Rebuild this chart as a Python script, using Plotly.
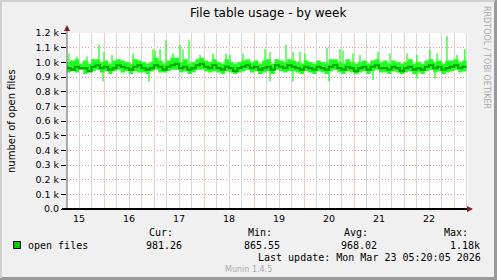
import plotly.graph_objects as go
import pandas as pd

# ---------------- data (values in thousands of open files) ----------------
bin_start = "2026-03-15 06:00"
bin_count = 97
avg_k = [0.96,0.95,0.97,0.96,0.96,0.94,0.97,0.98,0.96,0.97,0.95,0.96,
         0.98,0.97,0.96,0.95,0.97,0.98,0.96,0.95,0.96,0.98,0.97,0.95,
         0.97,0.98,0.99,0.96,0.97,0.95,0.96,0.98,0.99,0.97,0.96,0.98,
         0.96,0.95,0.97,0.96,0.94,0.96,0.97,0.98,0.96,0.97,0.95,0.96,
         0.97,0.95,0.98,0.97,0.96,0.98,0.97,0.96,0.95,0.97,0.96,0.95,
         0.97,0.96,0.95,0.97,0.98,0.96,0.95,0.97,0.96,0.94,0.96,0.97,
         0.95,0.97,0.98,0.96,0.96,0.95,0.97,0.96,0.94,0.96,0.97,0.95,
         0.96,0.95,0.97,0.98,0.96,0.97,0.95,0.96,0.97,0.98,0.96,0.97,0.97]
low_k = [0.93,0.94,0.93,0.95,0.92,0.93,0.94,0.95,0.93,0.94,0.92,0.94,
         0.95,0.93,0.94,0.92,0.94,0.93,0.93,0.92,0.94,0.95,0.93,0.93,
         0.94,0.95,0.95,0.93,0.94,0.92,0.93,0.95,0.95,0.94,0.93,0.94,
         0.93,0.92,0.94,0.93,0.92,0.93,0.94,0.95,0.93,0.94,0.92,0.93,
         0.94,0.92,0.95,0.94,0.93,0.94,0.94,0.93,0.92,0.94,0.93,0.92,
         0.94,0.93,0.92,0.94,0.95,0.93,0.92,0.94,0.93,0.92,0.93,0.94,
         0.92,0.94,0.95,0.93,0.93,0.92,0.94,0.93,0.92,0.93,0.94,0.92,
         0.93,0.92,0.94,0.95,0.93,0.94,0.92,0.93,0.94,0.95,0.93,0.94,0.94]
high_k = [1.00,1.01,1.02,0.99,1.01,0.99,1.02,1.02,1.00,1.01,0.99,1.01,
          1.02,1.01,1.00,0.99,1.02,1.01,1.00,0.99,1.00,1.03,1.01,0.99,
          1.01,1.03,1.03,1.00,1.02,0.99,1.00,1.02,1.03,1.01,1.00,1.02,
          1.00,0.99,1.02,1.00,0.99,1.00,1.01,1.02,1.00,1.01,0.99,1.01,
          1.02,0.99,1.02,1.01,1.00,1.02,1.01,1.00,0.99,1.01,1.00,0.99,
          1.01,1.00,0.99,1.02,1.02,1.00,0.99,1.02,1.00,0.99,1.00,1.01,
          0.99,1.01,1.02,1.00,1.01,0.99,1.01,1.00,0.99,1.00,1.02,0.99,
          1.00,0.99,1.01,1.02,1.00,1.01,0.99,1.01,1.01,1.02,1.00,1.01,1.01]

spike_up_times = ["2026-03-15 07:10","2026-03-15 11:00","2026-03-15 15:50","2026-03-15 21:35",
                  "2026-03-16 00:00","2026-03-16 03:50","2026-03-16 13:55","2026-03-16 23:30",
                  "2026-03-17 00:30","2026-03-17 02:55","2026-03-17 05:45","2026-03-17 09:07",
                  "2026-03-17 12:29","2026-03-17 13:55","2026-03-17 16:48","2026-03-17 22:05",
                  "2026-03-18 04:19","2026-03-18 10:34","2026-03-18 12:29","2026-03-18 18:43",
                  "2026-03-19 05:17","2026-03-19 07:41","2026-03-19 15:22","2026-03-19 18:43",
                  "2026-03-19 22:05","2026-03-20 00:29","2026-03-20 11:02","2026-03-20 17:17",
                  "2026-03-20 18:43","2026-03-20 23:31","2026-03-21 02:53","2026-03-21 11:31",
                  "2026-03-21 17:17","2026-03-22 01:26","2026-03-22 06:14","2026-03-22 12:29",
                  "2026-03-22 15:50","2026-03-22 20:38","2026-03-23 01:26","2026-03-23 05:10"]
spike_up_k = [1.06,1.04,1.04,1.12,1.07,1.05,1.06,1.09,1.08,1.09,1.15,1.06,
              1.12,1.09,1.15,1.05,1.06,1.06,1.05,1.06,1.09,1.07,1.12,1.07,
              1.07,1.06,1.10,1.09,1.08,1.06,1.05,1.07,1.06,1.06,1.05,1.09,
              1.06,1.18,1.05,1.09]
spike_down_times = ["2026-03-15 23:31","2026-03-16 21:36","2026-03-19 07:41","2026-03-19 18:43",
                    "2026-03-20 12:00","2026-03-21 09:07","2026-03-22 06:14","2026-03-22 14:53"]
spike_down_k = [0.87,0.87,0.87,0.87,0.87,0.88,0.89,0.89]

day_labels = ["15","16","17","18","19","20","21","22"]
y_tick_vals = [0.0,0.1,0.2,0.3,0.4,0.5,0.6,0.7,0.8,0.9,1.0,1.1,1.2]
y_tick_text = ["0.0","0.1 k","0.2 k","0.3 k","0.4 k","0.5 k","0.6 k","0.7 k",
               "0.8 k","0.9 k","1.0 k","1.1 k","1.2 k"]
stat_labels = ["Cur:","Min:","Avg:","Max:"]
stat_values = ["981.26","865.55","968.02","1.18k"]
series_name = "open files"

# ---------------- geometry helpers ----------------
W, H = 497, 280
L, R, T, B = 67, 29, 33, 71
PW, PH = W - L - R, H - T - B

def px(x):
    return (x - L) / PW

def py(y):
    return (H - B - y) / PH

def fmt(ts):
    return ts.strftime("%Y-%m-%d %H:%M")

times = [fmt(t) for t in pd.date_range(bin_start, periods=bin_count, freq="2h")]
x_start = "2026-03-15 06:14"
x_end = "2026-03-23 06:43"

BRIGHT = "#22FF22"
DARK = "#00A800"
GRID_RED = "rgb(240,150,150)"
VGRID_RED = "rgb(248,200,200)"
VGRID_GREY = "rgb(214,214,214)"

grid6 = [fmt(t) for t in pd.date_range("2026-03-15 12:00", "2026-03-23 06:00", freq="6h")]
midnights = [fmt(t) for t in pd.date_range("2026-03-16 00:00", "2026-03-23 00:00", freq="1D")]

fig = go.Figure()
# invisible anchors so the overlay grid axes are drawn
fig.add_trace(go.Scatter(x=[x_start], y=[None], xaxis="x2", yaxis="y", showlegend=False, hoverinfo="skip"))
fig.add_trace(go.Scatter(x=[x_start], y=[None], xaxis="x3", yaxis="y", showlegend=False, hoverinfo="skip"))

fig.add_trace(go.Scatter(x=times, y=low_k, mode="lines", line=dict(width=0, shape="hv", color=BRIGHT),
                         showlegend=False, hoverinfo="skip"))
fig.add_trace(go.Scatter(x=times, y=high_k, mode="lines", line=dict(width=0.6, shape="hv", color=BRIGHT),
                         fill="tonexty", fillcolor=BRIGHT, showlegend=False, hoverinfo="skip"))

sx, sy = [], []
for t, v in zip(spike_up_times, spike_up_k):
    sx += [t, t, None]
    sy += [0.99, v, None]
for t, v in zip(spike_down_times, spike_down_k):
    sx += [t, t, None]
    sy += [0.94, v, None]
fig.add_trace(go.Scatter(x=sx, y=sy, mode="lines", line=dict(width=1.3, color=BRIGHT),
                         showlegend=False, hoverinfo="skip", connectgaps=False))
fig.add_trace(go.Scatter(x=times, y=avg_k, mode="lines", line=dict(width=2.2, shape="hv", color=DARK),
                         name=series_name, showlegend=False))

shapes = []
# axes lines and arrows
shapes.append(dict(type="line", xref="paper", yref="paper", x0=px(67), x1=px(67), y0=py(209), y1=py(29),
                   line=dict(color="#606060", width=1)))
shapes.append(dict(type="line", xref="paper", yref="paper", x0=px(62), x1=px(468), y0=py(209), y1=py(209),
                   line=dict(color="#000000", width=2)))
shapes.append(dict(type="path", xref="paper", yref="paper",
                   path=f"M {px(64)} {py(31)} L {px(70)} {py(31)} L {px(67)} {py(25)} Z",
                   fillcolor="#8B1A1A", line=dict(width=0)))
shapes.append(dict(type="path", xref="paper", yref="paper",
                   path=f"M {px(467)} {py(206)} L {px(467)} {py(212)} L {px(473)} {py(209)} Z",
                   fillcolor="#8B1A1A", line=dict(width=0)))
# legend swatch
shapes.append(dict(type="rect", xref="paper", yref="paper", x0=px(13.5), x1=px(20.5), y0=py(248.5), y1=py(241.5),
                   fillcolor="#00CC00", line=dict(color="#000000", width=1)))
# image border
shapes.append(dict(type="line", xref="paper", yref="paper", x0=px(495.5), x1=px(495.5), y0=py(0), y1=py(280),
                   line=dict(color="#9A9A9A", width=3)))
shapes.append(dict(type="line", xref="paper", yref="paper", x0=px(0), x1=px(497), y0=py(278.5), y1=py(278.5),
                   line=dict(color="#9A9A9A", width=3)))
shapes.append(dict(type="line", xref="paper", yref="paper", x0=px(1), x1=px(1), y0=py(0), y1=py(278),
                   line=dict(color="#D0D0D0", width=2)))
shapes.append(dict(type="line", xref="paper", yref="paper", x0=px(0), x1=px(495), y0=py(1), y1=py(1),
                   line=dict(color="#D0D0D0", width=2)))

ann = []
mono = "DejaVu Sans Mono"

def add_text(text, x, y, xanchor="center", size=10, family=mono, color="#000", angle=0):
    ann.append(dict(text=text, x=px(x), y=py(y), xref="paper", yref="paper", xanchor=xanchor,
                    yanchor="middle", showarrow=False, textangle=angle,
                    font=dict(family=family, size=size, color=color)))

add_text("File table usage - by week", 268, 13, size=12, family="DejaVu Sans")
add_text("number of open files", 11, 121, size=10, family="DejaVu Sans", angle=-90)
add_text("RRDTOOL / TOBI OETIKER", 487, 57, size=8, family="DejaVu Sans", color="#A8A8A8", angle=90)
add_text(series_name, 26, 245, xanchor="left")
label_right = [175, 274, 370, 470]
value_right = [184, 282, 379, 482]
for lab, val, lr, vr in zip(stat_labels, stat_values, label_right, value_right):
    add_text(lab, lr, 233, xanchor="right")
    add_text(val, vr, 245, xanchor="right")
add_text("Last update: Mon Mar 23 05:20:05 2026", 483, 257, xanchor="right")
add_text("Munin 1.4.5", 248, 269, size=8, family="DejaVu Sans", color="#AAAAAA")

noon_vals = [f"2026-03-{d} 12:00" for d in day_labels]

grid_axis_common = dict(type="date", range=[x_start, x_end], overlaying="x", anchor="y",
                        showticklabels=False, ticks="", zeroline=False, showline=False,
                        tickmode="array", gridwidth=1, fixedrange=True)

fig.update_layout(
    width=W, height=H, margin=dict(l=L, r=R, t=T, b=B, pad=0),
    paper_bgcolor="#F0F0F0", plot_bgcolor="#FFFFFF",
    shapes=shapes, annotations=ann, showlegend=False,
    xaxis=dict(type="date", range=[x_start, x_end], tickvals=noon_vals, ticktext=day_labels,
               showgrid=False, zeroline=False, showline=False, ticks="", ticklabelstandoff=2,
               tickfont=dict(family="DejaVu Sans", size=9.5, color="#000"), fixedrange=True),
    xaxis2=dict(grid_axis_common, tickvals=grid6, showgrid=True, gridcolor=VGRID_GREY),
    xaxis3=dict(grid_axis_common, tickvals=midnights, showgrid=True, gridcolor=VGRID_RED),
    yaxis=dict(range=[0, 1.2], tickvals=y_tick_vals, ticktext=y_tick_text,
               showgrid=True, gridcolor=GRID_RED, griddash="1px,2px", gridwidth=1,
               zeroline=False, showline=False, ticks="outside", ticklen=5, tickcolor="#000",
               tickfont=dict(family="DejaVu Sans", size=9.5, color="#000"), fixedrange=True),
)

fig.write_html("out.html")
